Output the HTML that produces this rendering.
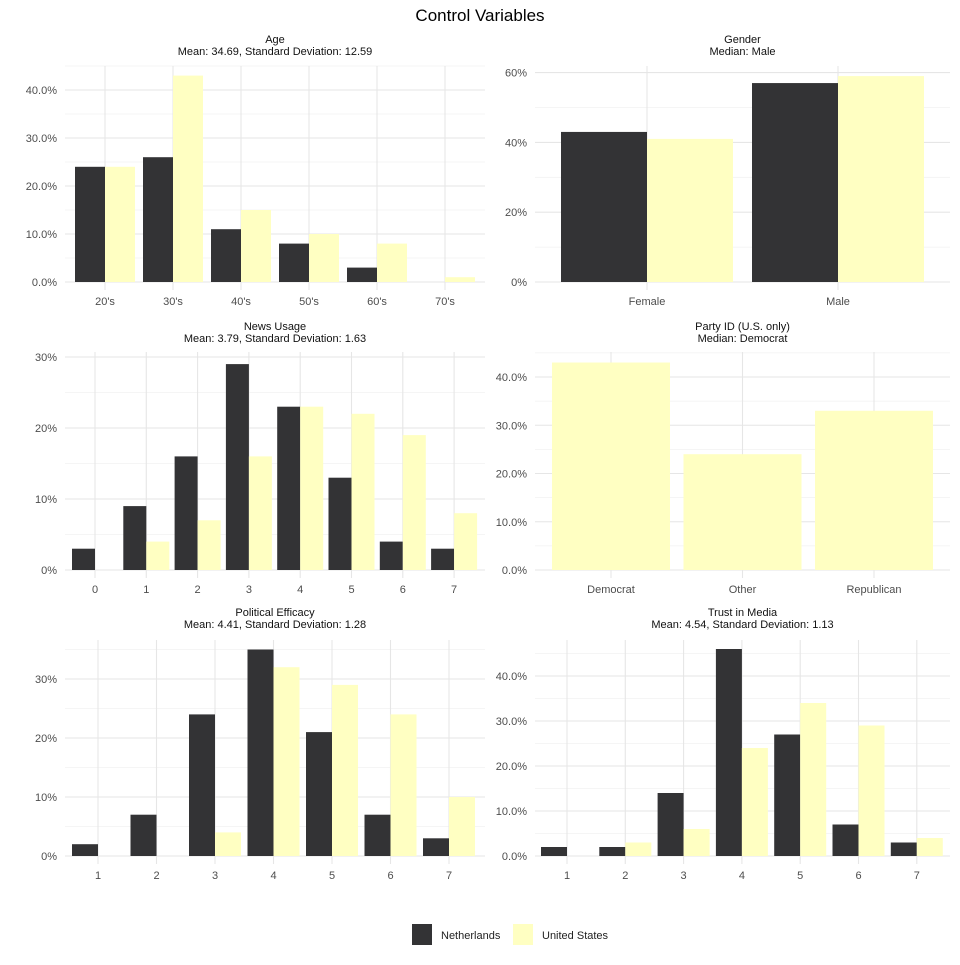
<!DOCTYPE html>
<html><head><meta charset="utf-8"><style>
body{margin:0;background:#fff;}
svg text{font-family:"Liberation Sans",Arial,sans-serif;}
</style></head><body>
<svg id="c" width="960" height="960" xmlns="http://www.w3.org/2000/svg">
<text x="480" y="21" font-size="17" text-anchor="middle" fill="#000">Control Variables</text>
<g>
<rect x="412" y="924" width="20" height="21" fill="#333335"/>
<text x="441" y="939" font-size="11" fill="#222">Netherlands</text>
<rect x="513" y="924" width="20" height="21" fill="#ffffc2"/>
<text x="542" y="939" font-size="11" fill="#222">United States</text>
</g>
</svg>
<script>
const ageCats=["20's","30's","40's","50's","60's","70's"];
const ageNL=[24,26,11,8,3,0];
const ageUS=[24,43,15,10,8,1];
const ageTicks=[0,10,20,30,40];
const genderCats=["Female","Male"];
const genderNL=[43,57];
const genderUS=[41,59];
const genderTicks=[0,20,40,60];
const newsCats=["0","1","2","3","4","5","6","7"];
const newsNL=[3,9,16,29,23,13,4,3];
const newsUS=[0,4,7,16,23,22,19,8];
const newsTicks=[0,10,20,30];
const partyCats=["Democrat","Other","Republican"];
const partyNL=null;
const partyUS=[43,24,33];
const partyTicks=[0,10,20,30,40];
const effCats=["1","2","3","4","5","6","7"];
const effNL=[2,7,24,35,21,7,3];
const effUS=[0,0,4,32,29,24,10];
const effTicks=[0,10,20,30];
const trustCats=["1","2","3","4","5","6","7"];
const trustNL=[2,2,14,46,27,7,3];
const trustUS=[0,3,6,24,34,29,4];
const trustTicks=[0,10,20,30,40];

const svg=document.getElementById('c');
const NS='http://www.w3.org/2000/svg';
function mk(tag,attrs,parent){const e=document.createElementNS(NS,tag);for(const k in attrs)e.setAttribute(k,attrs[k]);parent.appendChild(e);return e;}

const panels=[
 {key:'age',title:'Age',sub:'Mean: 34.69, Standard Deviation: 12.59',x0:65,x1:485,top:66,bot:290,zero:282,ppu:4.8,c0:105,step:68,bw:30,cats:ageCats,nl:ageNL,us:ageUS,ticks:ageTicks,dec:true,ty:43},
 {key:'gender',title:'Gender',sub:'Median: Male',x0:535,x1:950,top:66,bot:290,zero:282,ppu:3.49,c0:647,step:191,bw:86,cats:genderCats,nl:genderNL,us:genderUS,ticks:genderTicks,dec:false,ty:43},
 {key:'news-usage',title:'News Usage',sub:'Mean: 3.79, Standard Deviation: 1.63',x0:65,x1:485,top:352,bot:578,zero:570,ppu:7.1,c0:95,step:51.3,bw:23,cats:newsCats,nl:newsNL,us:newsUS,ticks:newsTicks,dec:false,ty:330},
 {key:'party-id',title:'Party ID (U.S. only)',sub:'Median: Democrat',x0:535,x1:950,top:352,bot:578,zero:570,ppu:4.825,c0:611,step:131.5,bw:118,cats:partyCats,nl:partyNL,us:partyUS,ticks:partyTicks,dec:true,ty:330},
 {key:'political-efficacy',title:'Political Efficacy',sub:'Mean: 4.41, Standard Deviation: 1.28',x0:65,x1:485,top:640,bot:864,zero:856,ppu:5.9,c0:98,step:58.5,bw:26,cats:effCats,nl:effNL,us:effUS,ticks:effTicks,dec:false,ty:616},
 {key:'trust-in-media',title:'Trust in Media',sub:'Mean: 4.54, Standard Deviation: 1.13',x0:535,x1:950,top:640,bot:864,zero:856,ppu:4.5,c0:567,step:58.3,bw:26,cats:trustCats,nl:trustNL,us:trustUS,ticks:trustTicks,dec:true,ty:616}
];

panels.forEach(p=>{
 const g=mk('g',{},svg);
 
 
 const y=v=>p.zero-v*p.ppu;
 const x=i=>p.c0+i*p.step;
 const t=mk('text',{x:(p.x0+p.x1)/2,y:p.ty,'font-size':11,'text-anchor':'middle',fill:'#111'},g);
 t.textContent=p.title;
 
 
 const s=mk('text',{x:(p.x0+p.x1)/2,y:p.ty+12,'font-size':11,'text-anchor':'middle',fill:'#111'},g);
 s.textContent=p.sub;
 
 
 const stepT=p.ticks[1]-p.ticks[0];
 // minor grid
 for(let v=stepT/2;y(v)>=p.top-0.5;v+=stepT){
  mk('line',{x1:p.x0,x2:p.x1,y1:y(v),y2:y(v),stroke:'#f2f2f2','stroke-width':0.8},g);
 }
 p.ticks.forEach(v=>{
  mk('line',{x1:p.x0,x2:p.x1,y1:y(v),y2:y(v),stroke:'#e6e6e6','stroke-width':1.1},g);
  const l=mk('text',{x:p.x0-8,y:y(v)+4,'font-size':11,'text-anchor':'end',fill:'#4d4d4d'},g);
  l.textContent=(p.dec?v.toFixed(1):v)+'%';
  
  
 });
 p.cats.forEach((c,i)=>{
  mk('line',{x1:x(i),x2:x(i),y1:p.top,y2:p.bot,stroke:'#e6e6e6','stroke-width':1.1},g);
 });
 p.cats.forEach((c,i)=>{
  if(p.nl){
   const v=p.nl[i];
   const r=mk('rect',{x:x(i)-p.bw,y:y(v),width:p.bw,height:v*p.ppu,fill:'#333335'},g);
   
   
   const v2=p.us[i];
   const r2=mk('rect',{x:x(i),y:y(v2),width:p.bw,height:v2*p.ppu,fill:'#ffffc2'},g);
   
   
  } else {
   const v2=p.us[i];
   const r2=mk('rect',{x:x(i)-p.bw/2,y:y(v2),width:p.bw,height:v2*p.ppu,fill:'#ffffc2'},g);
   
   
  }
  const l=mk('text',{x:x(i),y:p.bot+15,'font-size':11,'text-anchor':'middle',fill:'#4d4d4d'},g);
  l.textContent=c;
  
  
 });
});
</script>
</body></html>
